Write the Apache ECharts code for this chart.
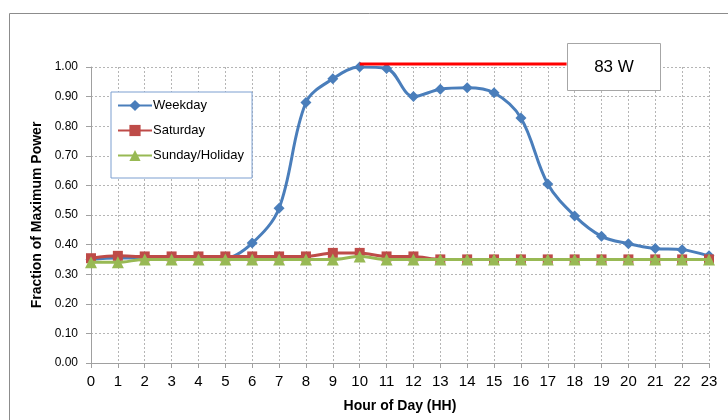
<!DOCTYPE html>
<html><head><meta charset="utf-8">
<script src="https://cdn.jsdelivr.net/npm/echarts@6/dist/echarts.min.js"></script>
<style>html,body{margin:0;padding:0;background:#fff}#c{width:728px;height:420px}</style>
</head><body><div id="c"></div>
<script>
const hours = [0,1,2,3,4,5,6,7,8,9,10,11,12,13,14,15,16,17,18,19,20,21,22,23];
const weekday = [0.35,0.355,0.355,0.355,0.355,0.355,0.405,0.523,0.88,0.96,1.00,0.995,0.90,0.925,0.93,0.913,0.828,0.605,0.497,0.428,0.403,0.387,0.383,0.362];
const saturday = [0.354,0.362,0.36,0.36,0.36,0.36,0.36,0.36,0.36,0.372,0.372,0.36,0.36,0.35,0.35,0.35,0.35,0.35,0.35,0.35,0.35,0.35,0.35,0.35];
const sunday = [0.34,0.34,0.35,0.35,0.35,0.35,0.35,0.35,0.35,0.35,0.36,0.35,0.35,0.35,0.35,0.35,0.35,0.35,0.35,0.35,0.35,0.35,0.35,0.35];
const maxLineX = [10, 17.7];
const maxLineY = 1.01;
const maxLabel = '83 W';

const font = "'Liberation Sans Narrow','Liberation Sans',sans-serif";
const pair = a => hours.map((h,i)=>[h,a[i]]);
const chart = echarts.init(document.getElementById('c'));
chart.setOption({
  animation:false,
  textStyle:{fontFamily:font},
  grid:{left:91,right:19,top:67,bottom:57,containLabel:false},
  graphic:[
    {type:'rect',shape:{x:9.5,y:13.5,width:740,height:430},style:{fill:'none',stroke:'#8c8c8c',lineWidth:1},silent:true,z:-10},
    {type:'rect',shape:{x:567.5,y:43.5,width:93,height:47},style:{fill:'#fff',stroke:'#a6a6a6',lineWidth:1},z:100},
    {type:'text',x:614,y:67,style:{text:maxLabel,fontSize:17,fontFamily:font,fill:'#000',align:'center',verticalAlign:'middle'},z:101}
  ],
  legend:{
    left:111,top:92,orient:'vertical',itemGap:12,itemWidth:34,itemHeight:14,
    padding:[7,8,16,6],borderColor:'#7d9fd0',borderWidth:1,backgroundColor:'#fff',
    textStyle:{fontSize:13,fontFamily:font,color:'#000',padding:[0,0,0,-4]},
    data:['Weekday','Saturday','Sunday/Holiday']
  },
  xAxis:{
    type:'value',min:0,max:23,interval:1,
    name:'Hour of Day (HH)',nameLocation:'middle',nameGap:36,
    nameTextStyle:{fontSize:14,fontWeight:'bold',color:'#000',fontFamily:font},
    axisLine:{lineStyle:{color:'#a0a0a0',width:1}},
    axisTick:{show:true,length:5,lineStyle:{color:'#a0a0a0'}},
    axisLabel:{fontSize:15,color:'#000',margin:11,formatter:v=>String(v)},
    splitLine:{show:true,lineStyle:{color:'#b5b5b5',type:[2,2],width:1}}
  },
  yAxis:{
    type:'value',min:0,max:1,interval:0.1,
    name:'Fraction of Maximum Power',nameLocation:'middle',nameGap:45,
    nameTextStyle:{fontSize:14,fontWeight:'bold',color:'#000',fontFamily:font},
    axisLine:{show:true,lineStyle:{color:'#a0a0a0',width:1}},
    axisTick:{show:true,length:5,lineStyle:{color:'#a0a0a0'}},
    axisLabel:{fontSize:12,color:'#000',margin:13,formatter:v=>v.toFixed(2)},
    splitLine:{show:true,lineStyle:{color:'#b5b5b5',type:[2,2],width:1}}
  },
  series:[
    {name:'Weekday',type:'line',smooth:0.35,data:pair(weekday),symbol:'diamond',symbolSize:11,
     itemStyle:{color:'#4a7ebb'},lineStyle:{color:'#4a7ebb',width:3},z:3},
    {name:'Saturday',type:'line',smooth:0.3,data:pair(saturday),symbol:'rect',symbolSize:10,
     itemStyle:{color:'#be4b48'},lineStyle:{color:'#be4b48',width:3},z:4},
    {name:'Sunday/Holiday',type:'line',smooth:0.3,data:pair(sunday),symbol:'triangle',symbolSize:12,
     itemStyle:{color:'#98b954'},lineStyle:{color:'#98b954',width:3},z:5},
    {name:'max',type:'line',data:maxLineX.map(x=>[x,maxLineY]),symbol:'none',clip:false,
     lineStyle:{color:'#ff0000',width:3},z:6}
  ]
});
</script></body></html>
